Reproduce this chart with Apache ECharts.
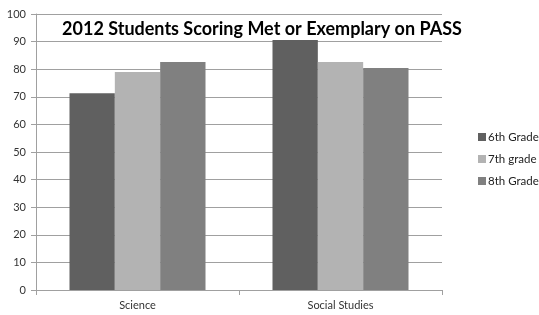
<!DOCTYPE html>
<html>
<head>
<meta charset="utf-8">
<script src="https://cdn.jsdelivr.net/npm/echarts@6/dist/echarts.min.js"></script>
<style>
  html, body { margin: 0; padding: 0; background: #fff; }
  #chart { width: 539px; height: 315px; }
</style>
</head>
<body>
<div id="chart"></div>
<script>
var categories = ['Science', 'Social Studies'];
var seriesNames = ['6th Grade', '7th grade', '8th Grade'];
var grade6 = [71.3, 90.6];
var grade7 = [79.0, 82.6];
var grade8 = [82.6, 80.4];
var yTicks = { min: 0, max: 100, interval: 10 };

var colors = ['#606060', '#b3b3b3', '#808080'];
var font = 'Lato, "Open Sans", sans-serif';

var chart = echarts.init(document.getElementById('chart'));

var option = {
    animation: false,
    color: colors,
    title: {
        text: '2012 Students Scoring Met or Exemplary on PASS',
        left: 257,
        textAlign: 'center',
        top: 15,
        textStyle: {
            fontFamily: font,
            fontSize: 18,
            fontWeight: 'bold',
            color: '#000'
        }
    },
    legend: {
        orient: 'vertical',
        left: 473,
        top: 126,
        itemWidth: 8,
        itemHeight: 8,
        itemGap: 10,
        icon: 'rect',
        data: seriesNames,
        textStyle: { fontFamily: font, fontSize: 11.5, color: '#222', padding: [0, 0, 0, -3] }
    },
    grid: { left: 36, right: 97, top: 14, bottom: 25 },
    xAxis: {
        type: 'category',
        data: categories,
        axisLine: { lineStyle: { color: '#a0a0a0' } },
        axisTick: { show: true, length: 5, alignWithLabel: false, lineStyle: { color: '#a0a0a0' } },
        axisLabel: { fontFamily: font, fontSize: 11, color: '#333', margin: 10 }
    },
    yAxis: {
        type: 'value',
        min: yTicks.min,
        max: yTicks.max,
        interval: yTicks.interval,
        axisLine: { show: true, lineStyle: { color: '#a0a0a0' } },
        axisTick: { show: true, length: 5, lineStyle: { color: '#a0a0a0' } },
        splitLine: { lineStyle: { color: '#a0a0a0' } },
        axisLabel: { fontFamily: font, fontSize: 11, color: '#333', margin: 10 }
    },
    series: [
        { name: seriesNames[0], type: 'bar', data: grade6, barGap: '0%', barCategoryGap: '33%' },
        { name: seriesNames[1], type: 'bar', data: grade7, barGap: '0%', barCategoryGap: '33%' },
        { name: seriesNames[2], type: 'bar', data: grade8, barGap: '0%', barCategoryGap: '33%' }
    ]
};

chart.setOption(option);
</script>
</body>
</html>
